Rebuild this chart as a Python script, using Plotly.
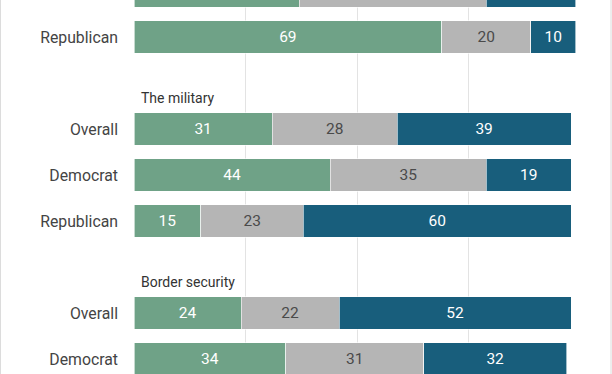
import plotly.graph_objects as go

# Rows (top to bottom); group headers carry no values
row_labels = ["Democrat", "Republican", "", "Overall", "Democrat", "Republican", "", "Overall", "Democrat"]
group_titles = ["The military", "Border security"]
group_title_rows = [2, 6]

green_vals = [37, 69, None, 31, 44, 15, None, 24, 34]
gray_vals = [42, 20, None, 28, 35, 23, None, 22, 31]
blue_vals = [20, 10, None, 39, 19, 60, None, 52, 32]

GREEN = "#6FA287"
GRAY = "#B5B5B5"
BLUE = "#185E7C"

Y_RANGE = [8.326, 0.196]
rows = [i for i in range(len(row_labels))]
visible = [Y_RANGE[1] <= r <= Y_RANGE[0] for r in rows]

fig = go.Figure()
for vals, col, tcol in [(green_vals, GREEN, "white"), (gray_vals, GRAY, "#4a4a4a"), (blue_vals, BLUE, "white")]:
    fig.add_trace(go.Bar(
        y=rows, x=vals, orientation="h",
        marker=dict(color=col, line=dict(color="rgba(255,255,255,0.6)", width=1)),
        text=[("" if (v is None or not vis) else str(v)) for v, vis in zip(vals, visible)],
        textposition="inside", insidetextanchor="middle",
        textfont=dict(family="Roboto", size=15.5, color=tcol),
        hoverinfo="skip", showlegend=False,
    ))

for t, r in zip(group_titles, group_title_rows):
    fig.add_annotation(x=0, y=r + 0.33, xref="x", yref="y", text=t, showarrow=False,
                       xanchor="left", yanchor="middle", xshift=5,
                       font=dict(family="Roboto", size=14, color="#333333"))

W, H = 612, 374
L, R = 134, 32
pw = W - L - R
# frame lines at figure edges
for px in [0.5, 611]:
    fig.add_shape(type="line", xref="paper", yref="paper",
                  x0=(px - L) / pw, x1=(px - L) / pw, y0=0, y1=1,
                  line=dict(color="#dcdcdc", width=1))

tick_rows = [r for r, l in zip(rows, row_labels) if l]
tick_text = [l for l in row_labels if l]

fig.update_layout(
    width=W, height=H,
    margin=dict(l=L, r=R, t=0, b=0),
    barmode="stack", bargap=0.30,
    plot_bgcolor="white", paper_bgcolor="white",
    xaxis=dict(range=[0, 100], tickvals=[0, 25, 50, 75, 100], showticklabels=False,
               showgrid=True, gridcolor="#e3e3e3", gridwidth=1, zeroline=False, fixedrange=True),
    yaxis=dict(range=Y_RANGE, tickvals=tick_rows, ticktext=tick_text,
               showgrid=False, zeroline=False, ticklabelstandoff=15,
               tickfont=dict(family="Roboto", size=15.8, color="#444444")),
    uniformtext=dict(mode="show", minsize=10),
)

fig.write_html("out.html", config={"displayModeBar": False},
               post_script="document.body.style.margin='0';document.body.style.overflow='hidden';")
